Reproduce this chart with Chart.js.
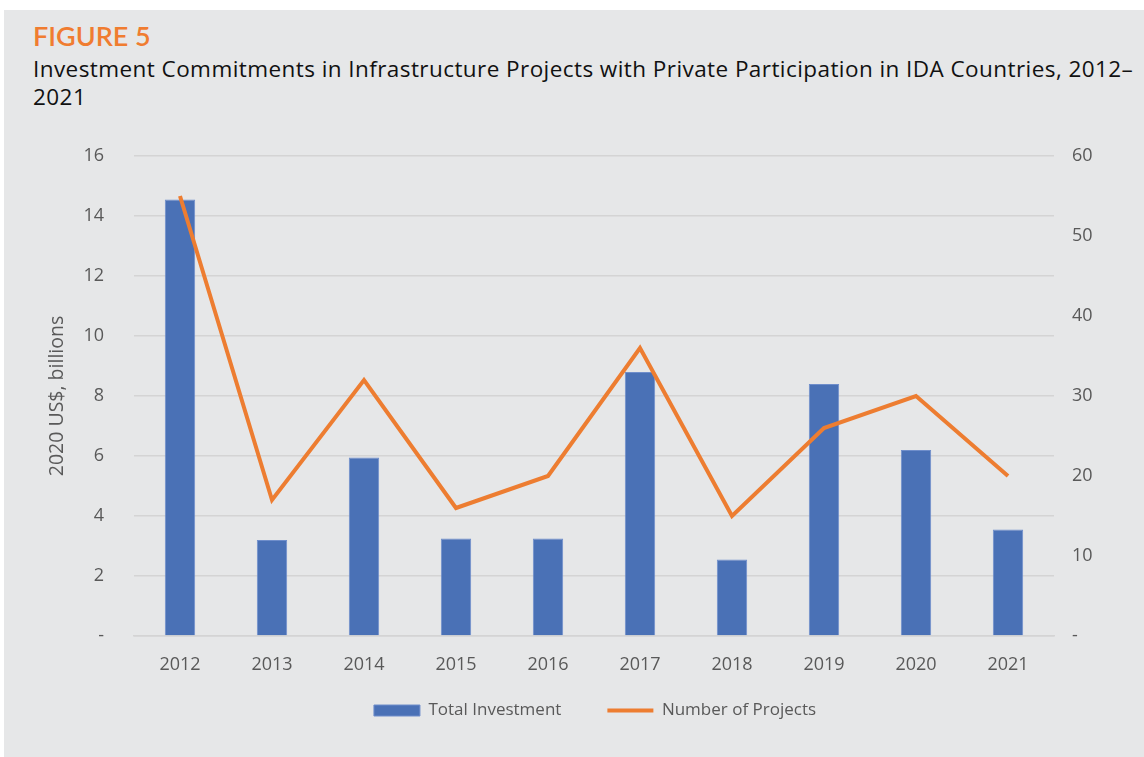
<!DOCTYPE html>
<html>
<head>
<meta charset="utf-8">
<script src="https://cdn.jsdelivr.net/npm/chart.js@4/dist/chart.umd.min.js"></script>
<style>
  html, body { margin: 0; padding: 0; background: #fff; }
  #panel {
    position: absolute; left: 4px; top: 10px; width: 1140px; height: 747px;
    background: #e6e7e8;
  }
  #fig {
    position: absolute; left: 29px; top: 9px; margin: 0;
    font-family: Lato, sans-serif; font-size: 27px; font-weight: 600; color: #f07c30;
  }
  #title {
    position: absolute; left: 29px; top: 45px; margin: 0; white-space: nowrap;
    font-family: 'Open Sans', sans-serif; font-size: 22.5px; line-height: 28px;
    letter-spacing: 0.43px; color: #111;
  }
  #wrap { position: absolute; left: 0; top: 0; width: 1144px; height: 757px; }
</style>
</head>
<body>
<div id="panel">
  <div id="fig">FIGURE 5</div>
  <div id="title">Investment Commitments in Infrastructure Projects with Private Participation in IDA Countries, 2012–<br>2021</div>
</div>
<div id="wrap"><canvas id="chart" width="1144" height="757"></canvas></div>
<script>
const years = ["2012", "2013", "2014", "2015", "2016", "2017", "2018", "2019", "2020", "2021"];
const investment = [14.55, 3.2, 5.95, 3.25, 3.25, 8.8, 2.55, 8.4, 6.2, 3.55];
const projects = [55, 17, 32, 16, 20, 36, 15, 26, 30, 20];

const tickFont = { family: "'Open Sans', sans-serif", size: 18 };
const tickColor = "#595959";

const myChart = new Chart(document.getElementById("chart"), {
  data: {
    labels: years,
    datasets: [
      {
        type: "line",
        label: "Number of Projects",
        data: projects,
        yAxisID: "y1",
        borderColor: "#ed7d31",
        backgroundColor: "#ed7d31",
        borderWidth: 4,
        pointRadius: 0,
        pointStyle: "line",
        tension: 0,
        order: 0,
      },
      {
        type: "bar",
        label: "Total Investment",
        data: investment,
        yAxisID: "y",
        backgroundColor: "#4a71b6",
        borderColor: "#6f8ecb",
        borderWidth: 1,
        pointStyle: "rect",
        barPercentage: 0.66,
        categoryPercentage: 0.5,
        order: 1,
      },
    ],
  },
  options: {
    responsive: false,
    animation: false,
    layout: { padding: { top: 156, left: 46, right: 0, bottom: 28 } },
    plugins: {
      legend: {
        position: "bottom",
        reverse: true,
        labels: {
          usePointStyle: true,
          pointStyleWidth: 46,
          boxHeight: 11,
          padding: 46,
          color: tickColor,
          font: { family: "'Open Sans', sans-serif", size: 17 },
        },
      },
      tooltip: { enabled: false },
    },
    scales: {
      x: {
        grid: { display: false, drawTicks: false },
        border: { color: "#d4d4d4", width: 1.5 },
        // mirror keeps the labels from being clipped to the short axis box
        ticks: { color: tickColor, font: tickFont, padding: -40, mirror: true },
        afterFit: (s) => { s.height = 20; },
      },
      y: {
        position: "left",
        min: 0,
        max: 16,
        ticks: {
          stepSize: 2,
          color: tickColor,
          font: tickFont,
          padding: 30,
          callback: (v) => (v === 0 ? "-" : v),
        },
        grid: { color: "#d4d4d4", lineWidth: 1.5, drawTicks: false },
        border: { display: false },
        title: {
          display: true,
          text: "2020 US$, billions",
          color: tickColor,
          font: { family: "'Open Sans', sans-serif", size: 19.5 },
          padding: 0,
        },
        afterFit: (s) => { s.width = 88; },
      },
      y1: {
        position: "right",
        min: 0,
        max: 60,
        ticks: {
          stepSize: 10,
          color: tickColor,
          font: tickFont,
          padding: 18,
          callback: (v) => (v === 0 ? "-" : v),
        },
        grid: { display: false, drawTicks: false },
        border: { display: false },
        afterFit: (s) => { s.width = 90; },
      },
    },
  },
});
</script>
</body>
</html>
